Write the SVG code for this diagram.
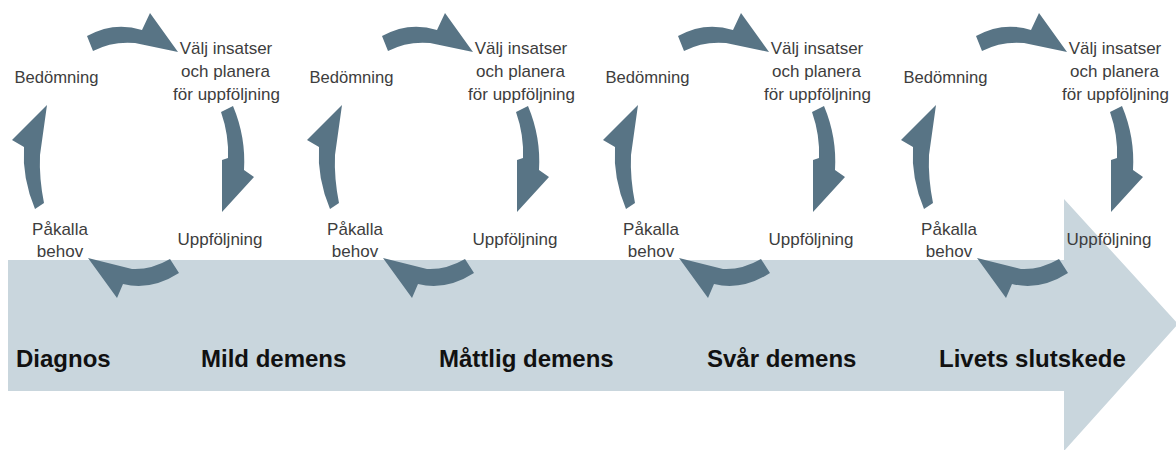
<svg xmlns="http://www.w3.org/2000/svg" xmlns:xlink="http://www.w3.org/1999/xlink" width="1176" height="450" viewBox="0 0 1176 450">
<style>
.lbl{font-family:"Liberation Sans",Arial,sans-serif;font-size:17px;fill:#3d3d3d;text-anchor:middle}
.stage{font-family:"Liberation Sans",Arial,sans-serif;font-size:24px;font-weight:bold;fill:#111}
.arr{fill:#587485}
</style>
<defs>
<g id="cycle">
<path class="arr" d="M87,36 Q114,21 142,30 L150,13 L178,52 L135,43 Q112,41 93,51 Z"/>
<path class="arr" d="M233,106 Q246,137 244,170 L254,177 L222,212 L222,160 L228,158 Q229,135 221,112 Z"/>
<path class="arr" d="M170,259 Q151,270 132,269 L88,258 L117,298 L123,284 Q151,291 179,273 Z"/>
<path class="arr" d="M35,209 Q22,178 24,147 L12,140 L47,105 L40,155 Q39,178 44,203 Z"/>
</g>
</defs>
<rect width="1176" height="450" fill="#ffffff"/>
<g id="timeline">
<path d="M8,260 L1064,260 L1064,199 L1178,324 L1064,451 L1064,391 L8,391 Z" fill="#c9d6dd"/>
</g>
<g id="connectors">
<use xlink:href="#cycle"/>
<use xlink:href="#cycle" x="295"/>
<use xlink:href="#cycle" x="591"/>
<use xlink:href="#cycle" x="889"/>
</g>
<g id="cycle1">
<text class="lbl" x="56.5" y="83" textLength="84" lengthAdjust="spacingAndGlyphs">Bedömning</text>
<text class="lbl" x="226" y="54">Välj insatser</text>
<text class="lbl" x="225.5" y="77">och planera</text>
<text class="lbl" x="226.5" y="100">för uppföljning</text>
<text class="lbl" x="220" y="245">Uppföljning</text>
<text class="lbl" x="60" y="235">Påkalla</text>
<text class="lbl" x="60" y="257">behov</text>
</g>
<g id="cycle2">
<text class="lbl" x="351.5" y="83" textLength="84" lengthAdjust="spacingAndGlyphs">Bedömning</text>
<text class="lbl" x="521" y="54">Välj insatser</text>
<text class="lbl" x="520.5" y="77">och planera</text>
<text class="lbl" x="521.5" y="100">för uppföljning</text>
<text class="lbl" x="515" y="245">Uppföljning</text>
<text class="lbl" x="355" y="235">Påkalla</text>
<text class="lbl" x="355" y="257">behov</text>
</g>
<g id="cycle3">
<text class="lbl" x="647.5" y="83" textLength="84" lengthAdjust="spacingAndGlyphs">Bedömning</text>
<text class="lbl" x="817" y="54">Välj insatser</text>
<text class="lbl" x="816.5" y="77">och planera</text>
<text class="lbl" x="817.5" y="100">för uppföljning</text>
<text class="lbl" x="811" y="245">Uppföljning</text>
<text class="lbl" x="651" y="235">Påkalla</text>
<text class="lbl" x="651" y="257">behov</text>
</g>
<g id="cycle4">
<text class="lbl" x="945.5" y="83" textLength="84" lengthAdjust="spacingAndGlyphs">Bedömning</text>
<text class="lbl" x="1115" y="54">Välj insatser</text>
<text class="lbl" x="1114.5" y="77">och planera</text>
<text class="lbl" x="1115.5" y="100">för uppföljning</text>
<text class="lbl" x="1109" y="245">Uppföljning</text>
<text class="lbl" x="949" y="235">Påkalla</text>
<text class="lbl" x="949" y="257">behov</text>
</g>
<g id="stages">
<text class="stage" x="16" y="367">Diagnos</text>
<text class="stage" x="201" y="367">Mild demens</text>
<text class="stage" x="439" y="367">Måttlig demens</text>
<text class="stage" x="707" y="367">Svår demens</text>
<text class="stage" x="939" y="367">Livets slutskede</text>
</g>
</svg>
